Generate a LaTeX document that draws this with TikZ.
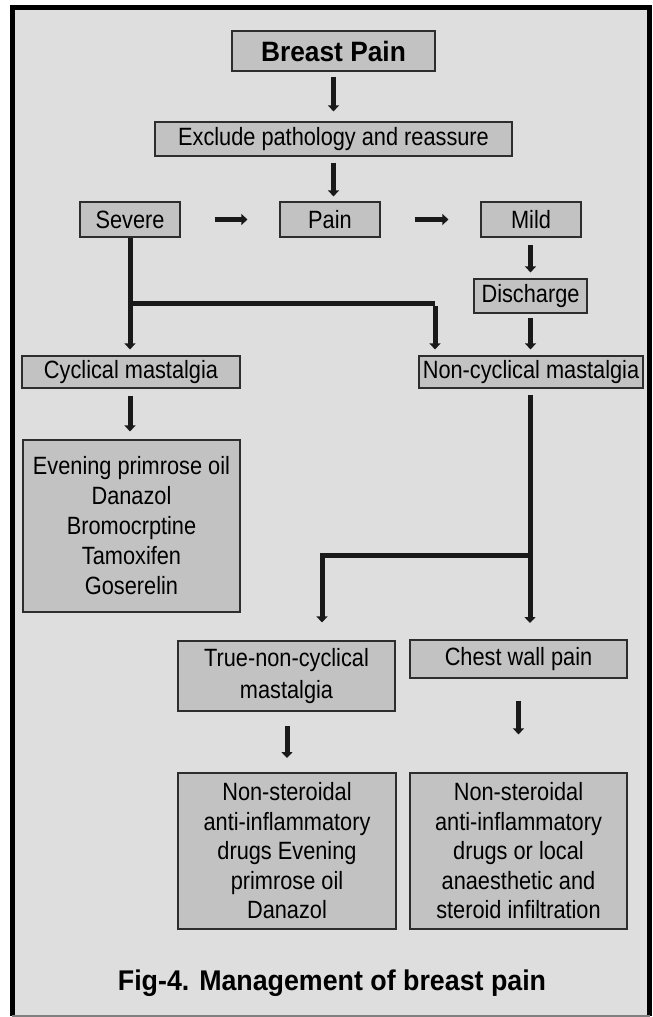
\documentclass[tikz,border=0pt]{standalone}
\usepackage{fontspec}
\setmainfont{Liberation Sans}[FakeStretch=0.87, BoldFeatures={FakeStretch=0.94}]
\usetikzlibrary{arrows.meta}
\definecolor{bgray}{RGB}{222,222,222}
\definecolor{boxgray}{RGB}{194,194,194}
\definecolor{edge}{RGB}{45,45,45}
\definecolor{arrowc}{RGB}{25,25,25}
\tikzset{
  box/.style={draw=edge, line width=1.2pt, fill=boxgray, inner sep=2pt, align=center,
    font=\fontsize{25}{30}\selectfont},
  arr/.style={draw=arrowc, line width=5pt, -{Triangle[width=11pt,length=6pt]}},
  ln/.style={draw=arrowc, line width=5pt},
}
\begin{document}
\begin{tikzpicture}[x=1pt,y=-1pt]
\useasboundingbox (0,0) rectangle (653,1017);
\fill[white] (0,0) rectangle (653,1017);
\fill[bgray] (12,7) rectangle (649,1016);
\draw[black, line width=5pt] (12,1016) -- (12,7.5) -- (649.5,7.5) -- (649.5,1016);
\draw[gray, line width=1.5pt] (12,1016) -- (649.5,1016);

% nodes
\node[box, minimum width=203pt, minimum height=40pt, font=\fontsize{28}{32}\selectfont\bfseries] (bp) at (333.5,51) {Breast Pain};
\node[box, minimum width=357pt, minimum height=34pt] (ex) at (333.5,139) {Exclude pathology and reassure};
\node[box, minimum width=100pt, minimum height=35pt] (sev) at (130,219.5) {Severe};
\node[box, minimum width=100pt, minimum height=35pt] (pain) at (330,219.5) {Pain};
\node[box, minimum width=100pt, minimum height=35pt] (mild) at (531,219.5) {Mild};
\node[box, minimum width=113pt, minimum height=34pt] (dis) at (530.5,296) {Discharge};
\node[box, minimum width=218pt, minimum height=32pt] (cyc) at (131,372) {Cyclical mastalgia};
\node[box, minimum width=224pt, minimum height=32pt] (ncyc) at (531,372) {Non-cyclical mastalgia};
\node[box, minimum width=217pt, minimum height=172pt] (eve) at (131.5,526)
  {Evening primrose oil\\Danazol\\Bromocrptine\\Tamoxifen\\Goserelin};
\node[box, minimum width=217pt, minimum height=70pt, font=\fontsize{25}{32}\selectfont] (tnc) at (286.5,676)
  {True-non-cyclical\\mastalgia};
\node[box, minimum width=217pt, minimum height=38pt] (cwp) at (518.5,659) {Chest wall pain};
\node[box, minimum width=218pt, minimum height=156pt, font=\fontsize{25}{29.5}\selectfont] (ns1) at (287,851)
  {Non-steroidal\\anti-inflammatory\\drugs Evening\\primrose oil\\Danazol};
\node[box, minimum width=217pt, minimum height=156pt, font=\fontsize{25}{29.5}\selectfont] (ns2) at (518.5,851)
  {Non-steroidal\\anti-inflammatory\\drugs or local\\anaesthetic and\\steroid infiltration};
\node[font=\fontsize{28.5}{32}\selectfont\bfseries] (cap) at (332,983) {Fig-4. Management of breast pain};

% connectors
\draw[arr, shorten <=5pt, shorten >=10pt] (bp.south) -- (bp.south |- ex.north);
\draw[arr, shorten <=6pt, shorten >=5pt] (ex.south) -- (ex.south |- pain.north);
\draw[arr, shorten <=34pt, shorten >=32pt] (sev.east) -- (pain.west);
\draw[arr, shorten <=34pt, shorten >=32pt] (pain.east) -- (mild.west);
\draw[arr, shorten <=7pt, shorten >=6pt] (dis.north |- mild.south) -- (dis.north);
\draw[arr, shorten <=4pt, shorten >=6pt] (dis.south) -- (dis.south |- ncyc.north);
\draw[arr, shorten <=0pt, shorten >=6pt] (sev.south) -- (sev.south |- cyc.north);
\coordinate (b1) at (sev.south |- 0,303);
\coordinate (b2) at (435,303);
\draw[ln] (b1) -- (b2);
\draw[arr, shorten >=6pt] ([yshift=-2.5pt]b2) -- (b2 |- ncyc.north);
\draw[arr, shorten <=7pt, shorten >=8pt] (sev.south |- cyc.south) -- (sev.south |- eve.north);
\draw[arr, shorten <=7pt, shorten >=17pt] (530,388) -- (530,640);
\coordinate (b3) at (530,555);
\coordinate (b4) at (322,555);
\draw[ln] (b3) -- ([xshift=-2.5pt]b4);
\draw[arr, shorten >=18pt] ([yshift=-2.5pt]b4) -- (b4 |- tnc.north);
\draw[arr, shorten <=15pt, shorten >=15pt] (287,711) -- (287,773);
\draw[arr, shorten <=22pt, shorten >=38pt] (cwp.south) -- (cwp.south |- ns2.north);
\end{tikzpicture}
\end{document}
